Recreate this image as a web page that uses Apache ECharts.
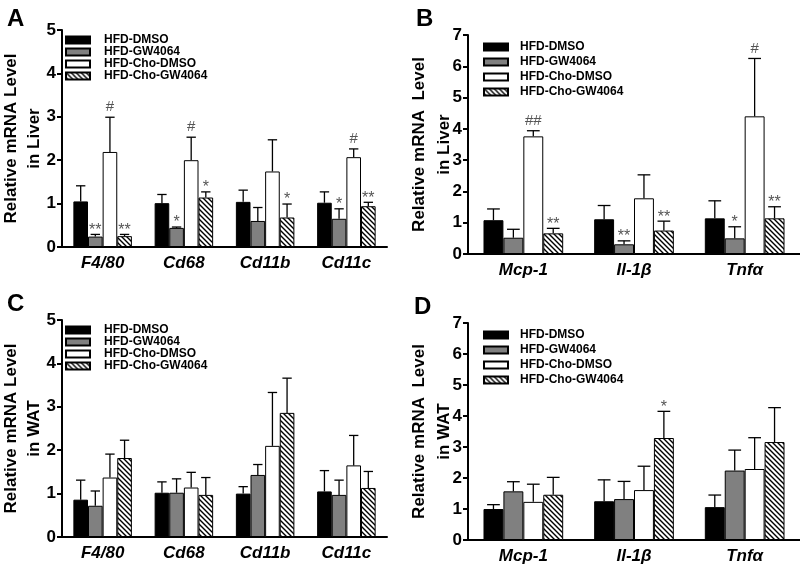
<!DOCTYPE html>
<html>
<head>
<meta charset="utf-8">
<script src="https://cdn.jsdelivr.net/npm/echarts@6/dist/echarts.min.js"></script>
<style>
  html, body { margin: 0; padding: 0; background: #fff; }
  #chart { width: 800px; height: 568px; }
</style>
</head>
<body>
<div id="chart"></div>
<script>
// groups and genes
const groupNames = ['HFD-DMSO', 'HFD-GW4064', 'HFD-Cho-DMSO', 'HFD-Cho-GW4064'];
const macroGenes = ['F4/80', 'Cd68', 'Cd11b', 'Cd11c'];
const cytoGenes = ['Mcp-1', 'Il-1β', 'Tnfα'];

// A - liver macrophage markers (rows = groups)
const liverMacroMean = [[1.05, 1.01, 1.04, 1.02], [0.24, 0.44, 0.60, 0.65], [2.19, 2.00, 1.74, 2.07], [0.25, 1.14, 0.68, 0.94]];
const liverMacroSem = [[0.36, 0.20, 0.27, 0.25], [0.05, 0.02, 0.31, 0.23], [0.80, 0.53, 0.73, 0.19], [0.04, 0.13, 0.31, 0.09]];
const liverMacroSig = [['', '', '', ''], ['**', '*', '', '*'], ['#', '#', '', '#'], ['**', '*', '*', '**']];

// B - liver cytokines
const liverCytoMean = [[1.08, 1.11, 1.14], [0.52, 0.31, 0.50], [3.76, 1.78, 4.40], [0.66, 0.75, 1.14]];
const liverCytoSem = [[0.36, 0.44, 0.56], [0.27, 0.11, 0.37], [0.18, 0.75, 1.85], [0.16, 0.30, 0.37]];
const liverCytoSig = [['', '', ''], ['', '**', '*'], ['##', '', '#'], ['**', '**', '**']];

// C - WAT macrophage markers
const watMacroMean = [[0.86, 1.02, 1.00, 1.05], [0.72, 1.02, 1.43, 0.97], [1.37, 1.14, 2.10, 1.65], [1.82, 0.97, 2.86, 1.13]];
const watMacroSem = [[0.45, 0.25, 0.16, 0.48], [0.34, 0.32, 0.24, 0.34], [0.54, 0.35, 1.23, 0.69], [0.41, 0.40, 0.80, 0.38]];
const watMacroSig = [['', '', '', ''], ['', '', '', ''], ['', '', '', ''], ['', '', '', '']];

// D - WAT cytokines
const watCytoMean = [[1.00, 1.25, 1.06], [1.57, 1.32, 2.24], [1.23, 1.61, 2.29], [1.46, 3.29, 3.16]];
const watCytoSem = [[0.14, 0.69, 0.39], [0.31, 0.57, 0.66], [0.57, 0.77, 1.01], [0.56, 0.86, 1.11]];
const watCytoSig = [['', '', ''], ['', '', ''], ['', '', ''], ['', '*', '']];

const FONT = 'Liberation Sans, Arial, sans-serif';
const BAR_FRAC = 0.18;

const hatch = (() => {
  const c = document.createElement('canvas');
  c.width = c.height = 5;
  const g = c.getContext('2d');
  g.fillStyle = '#fff';
  g.fillRect(0, 0, 5, 5);
  g.strokeStyle = '#000';
  g.lineWidth = 1.4;
  g.beginPath();
  g.moveTo(-1, -1); g.lineTo(6, 6);
  g.moveTo(-1, 4); g.lineTo(1, 6);
  g.moveTo(4, -1); g.lineTo(6, 1);
  g.stroke();
  return c;
})();

const fills = ['#000', '#808080', '#fff', { image: hatch, repeat: 'repeat' }];

const panels = [
  { letter: 'A', cats: macroGenes, mean: liverMacroMean, sem: liverMacroSem, sig: liverMacroSig, max: 5,
    yName: 'Relative mRNA Level\nin Liver', grid: { left: 62, top: 30, width: 325, height: 217 },
    nameGap: 16, nameLh: 23, lx: 65, ly: 34, gap: 0, tpad: 9, tx: 2, ty: 2 },
  { letter: 'B', cats: cytoGenes, mean: liverCytoMean, sem: liverCytoSem, sig: liverCytoSig, max: 7,
    yName: 'Relative mRNA  Level\nin Liver', grid: { left: 468, top: 35, width: 332, height: 219 },
    nameGap: 11, nameLh: 25, lx: 483, ly: 41, gap: 3, tpad: 7, tx: 411, ty: 2 },
  { letter: 'C', cats: macroGenes, mean: watMacroMean, sem: watMacroSem, sig: watMacroSig, max: 5,
    yName: 'Relative mRNA Level\nin WAT', grid: { left: 62, top: 320, width: 325, height: 217 },
    nameGap: 16, nameLh: 23, lx: 65, ly: 324, gap: 0, tpad: 9, tx: 2, ty: 287 },
  { letter: 'D', cats: cytoGenes, mean: watCytoMean, sem: watCytoSem, sig: watCytoSig, max: 7,
    yName: 'Relative mRNA  Level\nin WAT', grid: { left: 468, top: 323, width: 332, height: 217 },
    nameGap: 11, nameLh: 25, lx: 483, ly: 329, gap: 3, tpad: 7, tx: 409, ty: 290 }
];

const option = {
  backgroundColor: '#fff',
  animation: false,
  textStyle: { fontFamily: FONT },
  title: [],
  legend: [],
  grid: [],
  xAxis: [],
  yAxis: [],
  series: []
};

panels.forEach((p, pi) => {
  option.title.push({
    text: p.letter, left: p.tx, top: p.ty,
    textStyle: { fontSize: 24, fontWeight: 'bold', color: '#000', fontFamily: FONT }
  });
  option.grid.push(Object.assign({ containLabel: false, outerBoundsMode: 'none' }, p.grid));
  option.legend.push({
    orient: 'vertical', left: p.lx, top: p.ly, padding: 0,
    itemWidth: 24, itemHeight: 7, itemGap: p.gap, icon: 'rect', selectedMode: false,
    textStyle: { fontSize: 12, fontWeight: 'bold', color: '#000', lineHeight: 11, padding: [0, 0, 0, p.tpad], fontFamily: FONT },
    data: groupNames
  });
  option.xAxis.push({
    type: 'category', gridIndex: pi, data: p.cats,
    axisLine: { lineStyle: { color: '#000', width: 2 } },
    axisTick: { alignWithLabel: true, length: 6, lineStyle: { width: 2, color: '#000' } },
    axisLabel: { fontSize: 17, fontWeight: 'bold', fontStyle: 'italic', color: '#000', margin: 8 },
    splitLine: { show: false }
  });
  option.yAxis.push({
    type: 'value', gridIndex: pi, min: 0, max: p.max, interval: 1,
    name: p.yName, nameLocation: 'middle', nameGap: p.nameGap, nameRotate: 90, nameMoveOverlap: false,
    nameTextStyle: { fontSize: 17, fontWeight: 'bold', color: '#000', lineHeight: p.nameLh, align: 'center' },
    axisLine: { show: true, lineStyle: { color: '#000', width: 2 } },
    axisTick: { show: true, length: 5, lineStyle: { width: 2, color: '#000' } },
    axisLabel: { fontSize: 17, fontWeight: 'bold', color: '#000', margin: 6 },
    splitLine: { show: false }
  });

  groupNames.forEach((name, gi) => {
    option.series.push({
      name, type: 'bar', xAxisIndex: pi, yAxisIndex: pi,
      barWidth: (BAR_FRAC * 100) + '%', barGap: '0%',
      itemStyle: { color: fills[gi], borderColor: '#000', borderWidth: 1 },
      data: p.mean[gi]
    });
  });

  // error bars + significance marks
  const items = [];
  p.mean.forEach((row, gi) => row.forEach((m, ci) => {
    items.push({ value: [ci, m, m + p.sem[gi][ci], gi], mark: p.sig[gi][ci] });
  }));
  option.series.push({
    type: 'custom', xAxisIndex: pi, yAxisIndex: pi, z: 5,
    encode: { x: 0, y: [1, 2] },
    data: items.map(d => d.value),
    renderItem: (params, api) => {
      const ci = api.value(0), m = api.value(1), top = api.value(2), gi = api.value(3);
      const bw = api.size([1, 0])[0] * BAR_FRAC;
      const cx = api.coord([ci, 0])[0] + (gi - 1.5) * bw;
      const y0 = api.coord([ci, m])[1];
      const y1 = api.coord([ci, top])[1];
      const cap = bw * 0.32;
      const ls = { stroke: '#000', lineWidth: 1.3 };
      const children = [
        { type: 'line', shape: { x1: cx, y1: y0, x2: cx, y2: y1 }, style: ls },
        { type: 'line', shape: { x1: cx - cap, y1: y1, x2: cx + cap, y2: y1 }, style: ls }
      ];
      const mark = items[params.dataIndex].mark;
      if (mark) {
        const star = mark.indexOf('*') >= 0;
        children.push({
          type: 'text', x: cx, y: star ? y1 - 4 : y1 - 10,
          style: {
            text: mark, fill: '#555', align: 'center', verticalAlign: 'middle',
            font: (star ? '16px ' : '15px ') + FONT
          }
        });
      }
      return { type: 'group', children };
    }
  });
});

const chart = echarts.init(document.getElementById('chart'));
chart.setOption(option);
</script>
</body>
</html>
